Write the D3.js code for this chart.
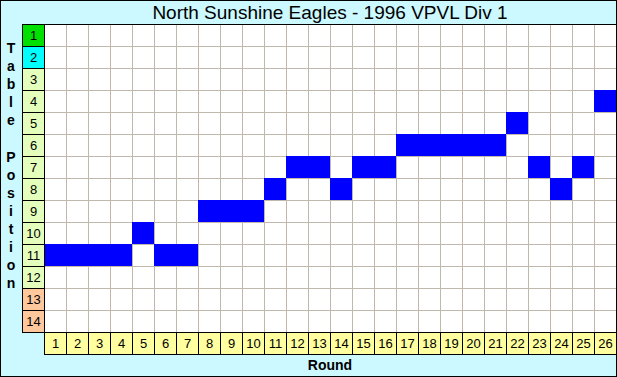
<!DOCTYPE html>
<meta charset="utf-8">
<title>North Sunshine Eagles - 1996 VPVL Div 1</title>
<script src="https://d3js.org/d3.v7.min.js"></script>
<style>
  body { margin: 0; }
  text { font-family: "Liberation Sans", Arial, sans-serif; }
  text.title { font-size: 19px; text-anchor: middle; }
  text.tick { font-size: 13px; text-anchor: middle; }
  text.axis-title { font-size: 14px; font-weight: bold; text-anchor: middle; }
</style>
<div id="chart"></div>
<script>
// data
var rounds = d3.range(1, 27);
var positions = d3.range(1, 15);
var standing = [11, 11, 11, 11, 10, 11, 11, 9, 9, 9, 8, 7, 7, 8, 7, 7, 6, 6, 6, 6, 6, 5, 7, 8, 7, 4];
var yLabel = "Table Position";
var xLabel = "Round";
var title = "North Sunshine Eagles - 1996 VPVL Div 1";

var width = 617, height = 377;

var svg = d3.select("#chart").append("svg")
    .attr("width", width)
    .attr("height", height);

svg.append("rect")
    .attr("x", 0.5).attr("y", 0.5)
    .attr("width", width - 1).attr("height", height - 1)
    .attr("fill", "#ccf8ff")
    .attr("stroke", "black");

var x = d3.scaleBand().domain(rounds).range([44, 616]);
var y = d3.scaleBand().domain(positions).range([24, 332]);

// plot area
svg.append("rect")
    .attr("x", x.range()[0]).attr("y", y.range()[0])
    .attr("width", x.range()[1] - x.range()[0])
    .attr("height", y.range()[1] - y.range()[0])
    .attr("fill", "white");

// grid
svg.append("g").selectAll("line")
    .data(rounds.slice(1))
    .enter().append("line")
    .attr("x1", function(d) { return x(d) + 0.5; })
    .attr("x2", function(d) { return x(d) + 0.5; })
    .attr("y1", y.range()[0])
    .attr("y2", y.range()[1])
    .attr("stroke", "#c0b8ac");

svg.append("g").selectAll("line")
    .data(positions.slice(1))
    .enter().append("line")
    .attr("y1", function(d) { return y(d) + 0.5; })
    .attr("y2", function(d) { return y(d) + 0.5; })
    .attr("x1", x.range()[0])
    .attr("x2", x.range()[1])
    .attr("stroke", "#c0b8ac");

// bars
svg.append("g").selectAll("rect")
    .data(standing)
    .enter().append("rect")
    .attr("x", function(d, i) { return x(rounds[i]); })
    .attr("y", function(d) { return y(d); })
    .attr("width", x.bandwidth())
    .attr("height", y.bandwidth())
    .attr("fill", "#0000ff");

// row labels
function rowColor(p) {
  if (p == 1) return "#00e000";
  if (p == 2) return "#00ffff";
  if (p >= 13) return "#ffc89c";
  return "#e4ffbc";
}
var rows = svg.append("g").selectAll("g")
    .data(positions)
    .enter().append("g");
rows.append("rect")
    .attr("x", 22.5)
    .attr("y", function(d) { return y(d) + 0.5; })
    .attr("width", x.range()[0] - 22)
    .attr("height", y.bandwidth())
    .attr("fill", rowColor)
    .attr("stroke", "black");
rows.append("text")
    .attr("class", "tick")
    .attr("x", 33.5)
    .attr("y", function(d) { return y(d) + y.bandwidth() / 2 + 5; })
    .text(function(d) { return d; });

// column labels
var cols = svg.append("g").selectAll("g")
    .data(rounds)
    .enter().append("g");
cols.append("rect")
    .attr("x", function(d) { return x(d) + 0.5; })
    .attr("y", y.range()[1] + 0.5)
    .attr("width", x.bandwidth())
    .attr("height", 22)
    .attr("fill", "#ffffa0")
    .attr("stroke", "black");
cols.append("text")
    .attr("class", "tick")
    .attr("x", function(d) { return x(d) + x.bandwidth() / 2 + 0.5; })
    .attr("y", y.range()[1] + 16)
    .text(function(d) { return d; });

// frame lines around plot
svg.append("line")
    .attr("x1", 22).attr("x2", 616)
    .attr("y1", 24.5).attr("y2", 24.5)
    .attr("stroke", "black");
svg.append("line")
    .attr("x1", 44.5).attr("x2", 44.5)
    .attr("y1", 24).attr("y2", 354)
    .attr("stroke", "black");

// title
svg.append("text")
    .attr("class", "title")
    .attr("x", (x.range()[0] + x.range()[1]) / 2)
    .attr("y", 19)
    .text(title);

// y axis title, one letter per line
svg.append("g").selectAll("text")
    .data(yLabel.split(""))
    .enter().append("text")
    .attr("class", "axis-title")
    .attr("x", 11)
    .attr("y", function(d, i) { return 53 + i * 18.1; })
    .text(function(d) { return d; });

svg.append("text")
    .attr("class", "axis-title")
    .attr("x", (x.range()[0] + x.range()[1]) / 2)
    .attr("y", 370)
    .text(xLabel);
</script>
